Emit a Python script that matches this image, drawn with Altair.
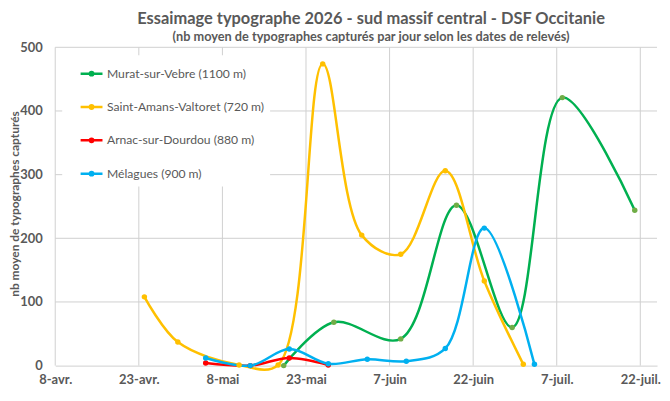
import altair as alt
import pandas as pd

series_names = ["Murat-sur-Vebre (1100 m)", "Saint-Amans-Valtoret (720 m)",
                "Arnac-sur-Dourdou (880 m)", "Mélagues (900 m)"]
line_colors = ["#00B050", "#FFC000", "#FF0000", "#00B0F0"]
marker_colors = ["#70AD47", "#FFC000", "#FF0000", "#00B0F0"]

murat_dates = ["2026-05-19", "2026-05-28", "2026-06-09", "2026-06-19", "2026-06-29", "2026-07-08", "2026-07-21"]
murat_vals = [0, 68, 42, 252, 60, 421, 244]

amans_dates = ["2026-04-24", "2026-04-30", "2026-05-11", "2026-05-18", "2026-05-26", "2026-06-02",
               "2026-06-09", "2026-06-17", "2026-06-24", "2026-07-01"]
amans_vals = [108, 37, 1, 1, 474, 205, 175, 306, 133, 2]

arnac_dates = ["2026-05-05", "2026-05-13", "2026-05-20", "2026-05-27"]
arnac_vals = [4, 0, 12, 1]

melagues_dates = ["2026-05-05", "2026-05-13", "2026-05-20", "2026-05-27", "2026-06-03", "2026-06-10",
                  "2026-06-17", "2026-06-24", "2026-07-03"]
melagues_vals = [12, 0, 26, 3, 10, 7, 27, 216, 2]

tick_dates = ["2026-04-08", "2026-04-23", "2026-05-08", "2026-05-23", "2026-06-07",
              "2026-06-22", "2026-07-07", "2026-07-22"]
y_ticks = [0, 100, 200, 300, 400, 500]
month_labels = ["janv.", "févr.", "mars", "avr.", "mai", "juin", "juil.", "août"]

rows = []
for name, dates, vals, mc in zip(series_names,
                                 [murat_dates, amans_dates, arnac_dates, melagues_dates],
                                 [murat_vals, amans_vals, arnac_vals, melagues_vals],
                                 marker_colors):
    for d, v in zip(dates, vals):
        rows.append({"serie": name, "date": d, "val": v, "mcolor": mc})
df = pd.DataFrame(rows)
vgrid = pd.DataFrame({"date": tick_dates})
hgrid = pd.DataFrame({"val": y_ticks[1:]})

FONT = "Lato"
GREY = "#595959"
GRID = "#D0D0D0"

def dt(s):
    y, m, d = (int(p) for p in s.split("-"))
    return alt.DateTime(year=y, month=m, date=d, utc=True)

x_enc = alt.X("date:T",
              scale=alt.Scale(type="utc", domain=[dt("2026-04-08"), dt("2026-07-25")]),
              axis=alt.Axis(values=[dt(s) for s in tick_dates],
                            labelExpr="utcdate(datum.value) + '-' + " + str(month_labels) + "[utcmonth(datum.value)]",
                            title=None, ticks=False, labelPadding=8, grid=False,
                            domainColor=GRID,
                            labelFont=FONT, labelFontSize=13, labelFontWeight="bold",
                            labelColor=GREY, labelFlush=False))
y_enc = alt.Y("val:Q",
              scale=alt.Scale(domain=[0, 500], nice=False),
              axis=alt.Axis(values=y_ticks, title="nb moyen de typographes capturés",
                            ticks=False, domain=False, labelPadding=13, grid=False,
                            labelFont=FONT, labelFontSize=13, labelFontWeight="bold", labelColor=GREY,
                            titleFont=FONT, titleFontSize=12, titleFontWeight="bold", titleColor=GREY,
                            titleX=-40.5, titleY=157, titleAngle=-90, titleBaseline="middle"))

sym = "M-1,0L1,0M-0.15,0a0.15,0.15 0 1,0 0.3,0a0.15,0.15 0 1,0 -0.3,0"

vrules = alt.Chart(vgrid).mark_rule(color=GRID, strokeWidth=1).encode(x=x_enc)
hrules = alt.Chart(hgrid).mark_rule(color=GRID, strokeWidth=1).encode(y=y_enc)

lines = alt.Chart(df).mark_line(interpolate="catmull-rom", strokeWidth=2.5).encode(
    x="date:T", y="val:Q",
    color=alt.Color("serie:N",
                    scale=alt.Scale(domain=series_names, range=line_colors),
                    legend=alt.Legend(title=None, orient="none", legendX=7, legendY=8,
                                      fillColor="white", padding=6, symbolOffset=11,
                                      symbolType=sym, symbolSize=484, symbolStrokeWidth=2.5,
                                      rowPadding=13.5, labelOffset=3,
                                      labelFont=FONT, labelFontSize=12.2, labelColor=GREY,
                                      labelLimit=300)),
    detail="serie:N",
)

points = alt.Chart(df).mark_point(filled=True, size=30, opacity=1, strokeWidth=0).encode(
    x="date:T", y="val:Q",
    fill=alt.Fill("mcolor:N", scale=None),
)

chart = alt.layer(vrules, hrules, lines, points).properties(
    width=605, height=320,
    autosize=alt.AutoSizeParams(type="none"),
    padding={"left": 47.5, "top": 38.5, "right": 5, "bottom": 28},
    title=alt.Title("Essaimage typographe 2026 - sud massif central - DSF Occitanie",
                    subtitle="(nb moyen de typographes capturés par jour selon les dates de relevés)",
                    font=FONT, fontSize=16.5, fontWeight="bold", color=GREY,
                    subtitleFont=FONT, subtitleFontSize=12.8, subtitleFontWeight="bold",
                    subtitleColor=GREY, subtitlePadding=3, offset=2, dx=15, dy=4, anchor="middle"),
).configure_view(stroke=None)

chart.save("out.html", embed_options={"renderer": "svg", "actions": False})
